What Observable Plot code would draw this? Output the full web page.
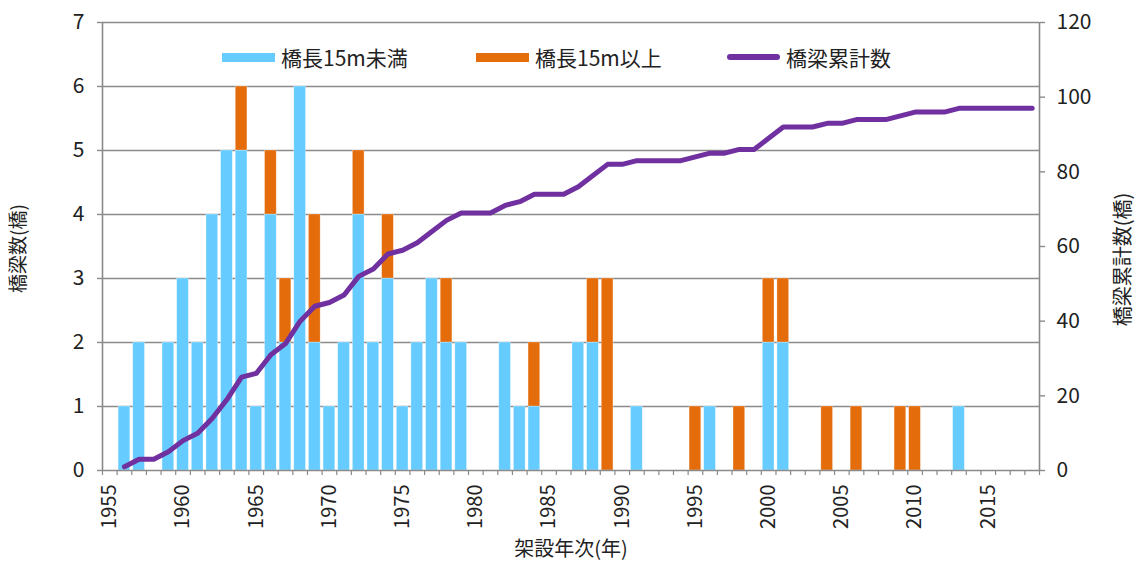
<!DOCTYPE html>
<html>
<head>
<meta charset="utf-8">
<script src="https://cdn.jsdelivr.net/npm/d3@7"></script>
<script src="https://cdn.jsdelivr.net/npm/@observablehq/plot@0.6"></script>
<style>
  html, body { margin: 0; padding: 0; background: #fff; }
  #wrap { position: relative; width: 1137px; height: 568px; font-family: "Noto Sans CJK JP", "Noto Sans", sans-serif; color: #222; }
  .leg { position: absolute; top: 42px; display: flex; align-items: center; font-size: 21px; white-space: nowrap; }
  .sw { display: inline-block; width: 53px; height: 9px; margin-right: 6px; }
  .swl { display: inline-block; width: 53px; height: 6px; border-radius: 3px; margin-right: 6px; }
</style>
</head>
<body>
<div id="wrap"></div>
<script>
// 架設年次
const years = [1955,1956,1957,1958,1959,1960,1961,1962,1963,1964,1965,1966,1967,1968,1969,1970,1971,1972,1973,1974,1975,1976,1977,1978,1979,1980,1981,1982,1983,1984,1985,1986,1987,1988,1989,1990,1991,1992,1993,1994,1995,1996,1997,1998,1999,2000,2001,2002,2003,2004,2005,2006,2007,2008,2009,2010,2011,2012,2013,2014,2015,2016,2017,2018];
// 橋長15m未満
const shortBridges = [0,1,2,0,2,3,2,4,5,5,1,4,2,6,2,1,2,4,2,3,1,2,3,2,2,0,0,2,1,1,0,0,2,2,0,0,1,0,0,0,0,1,0,0,0,2,2,0,0,0,0,0,0,0,0,0,0,0,1,0,0,0,0,0];
// 橋長15m以上
const longBridges  = [0,0,0,0,0,0,0,0,0,1,0,1,1,0,2,0,0,1,0,1,0,0,0,1,0,0,0,0,0,1,0,0,0,1,3,0,0,0,0,0,1,0,0,1,0,1,1,0,0,1,0,1,0,0,1,1,0,0,0,0,0,0,0,0];
// 橋梁累計数
const cumulative = [null,1,3,3,5,8,10,14,19,25,26,31,34,40,44,45,47,52,54,58,59,61,64,67,69,69,69,71,72,74,74,74,76,79,82,82,83,83,83,83,84,85,85,86,86,89,92,92,92,93,93,94,94,94,95,96,96,96,97,97,97,97,97,97];

const seriesNames = ["橋長15m未満", "橋長15m以上", "橋梁累計数"];
const seriesColors = ["#66CCFF", "#E46C0A", "#7030A0"];
const leftTicks = [0,1,2,3,4,5,6,7];
const rightTicks = [0,20,40,60,80,100,120];
const xLabelYears = [1955,1960,1965,1970,1975,1980,1985,1990,1995,2000,2005,2010,2015];
const yTitle = "橋梁数(橋)";
const y2Title = "橋梁累計数(橋)";
const xTitle = "架設年次(年)";

const leftMax = 7, rightMax = 120;
const toLeft = v => v * leftMax / rightMax;

const bars = [
  ...years.map((year, i) => ({year, value: shortBridges[i], type: seriesNames[0]})),
  ...years.map((year, i) => ({year, value: longBridges[i], type: seriesNames[1]}))
];
const lineData = years.map((year, i) => ({year, cum: cumulative[i]})).filter(d => d.cum != null);
const boundaries = years.map(y => y - 0.5).concat([years[years.length - 1] + 0.5]);

const gray = "#8a8a8a";
const chart = Plot.plot({
  width: 1137,
  height: 568,
  marginLeft: 102,
  marginRight: 98,
  marginTop: 22,
  marginBottom: 98,
  style: {fontFamily: "'Noto Sans CJK JP', 'Noto Sans', sans-serif", color: "#222", background: "#fff"},
  x: {domain: [years[0] - 0.5, years[years.length - 1] + 0.5], axis: null},
  y: {domain: [0, leftMax], axis: null},
  color: {domain: seriesNames.slice(0, 2), range: seriesColors.slice(0, 2)},
  marks: [
    Plot.gridY(leftTicks.slice(1), {stroke: gray, strokeOpacity: 1, strokeWidth: 1.4}),
    Plot.rectY(bars, {x1: d => d.year - 0.4, x2: d => d.year + 0.4, y: "value", fill: "type", stroke: "#ffffff", strokeWidth: 0.6, strokeOpacity: 0.5}),
    Plot.line(lineData, {x: "year", y: d => toLeft(d.cum), stroke: seriesColors[2], strokeWidth: 5, strokeLinecap: "round", strokeLinejoin: "round"}),
    Plot.ruleX([years[0] - 0.5], {stroke: gray, strokeWidth: 1.6}),
    Plot.ruleX([years[years.length - 1] + 0.5], {stroke: gray, strokeWidth: 1.6}),
    Plot.ruleY([0], {stroke: gray, strokeWidth: 1.6}),
    Plot.axisY(leftTicks, {anchor: "left", tickSize: 5, tickPadding: 13, fontSize: 21, stroke: gray, strokeWidth: 1.4, label: null, tickFormat: d => String(d)}),
    Plot.axisY(rightTicks.map(toLeft), {anchor: "right", tickSize: 5, tickPadding: 12, fontSize: 21, stroke: gray, strokeWidth: 1.4, label: null, tickFormat: v => String(Math.round(v * rightMax / leftMax))}),
    Plot.axisX(boundaries, {anchor: "bottom", tickSize: 5, stroke: gray, strokeWidth: 1.2, label: null, tickFormat: () => ""}),
    Plot.axisX(xLabelYears, {anchor: "bottom", tickSize: 0, tickPadding: 14, tickRotate: -90, fontSize: 20, label: null, tickFormat: d => String(d)}),
    Plot.text([yTitle], {frameAnchor: "left", textAnchor: "middle", dx: -84, dy: 2, rotate: -90, fontSize: 19, fill: "#222"}),
    Plot.text([y2Title], {frameAnchor: "right", textAnchor: "middle", dx: 84, dy: 13, rotate: -90, fontSize: 20, fill: "#222"}),
    Plot.text([xTitle], {frameAnchor: "bottom", dy: 85, fontSize: 20, fill: "#222"})
  ]
});

const wrap = document.getElementById("wrap");
wrap.appendChild(chart);

const legendLefts = [222, 476, 727];
seriesNames.forEach((name, i) => {
  const item = document.createElement("div");
  item.className = "leg";
  item.style.left = legendLefts[i] + "px";
  const sw = document.createElement("span");
  sw.className = i < 2 ? "sw" : "swl";
  sw.style.background = seriesColors[i];
  item.appendChild(sw);
  const t = document.createElement("span");
  t.textContent = name;
  item.appendChild(t);
  wrap.appendChild(item);
});
</script>
</body>
</html>
